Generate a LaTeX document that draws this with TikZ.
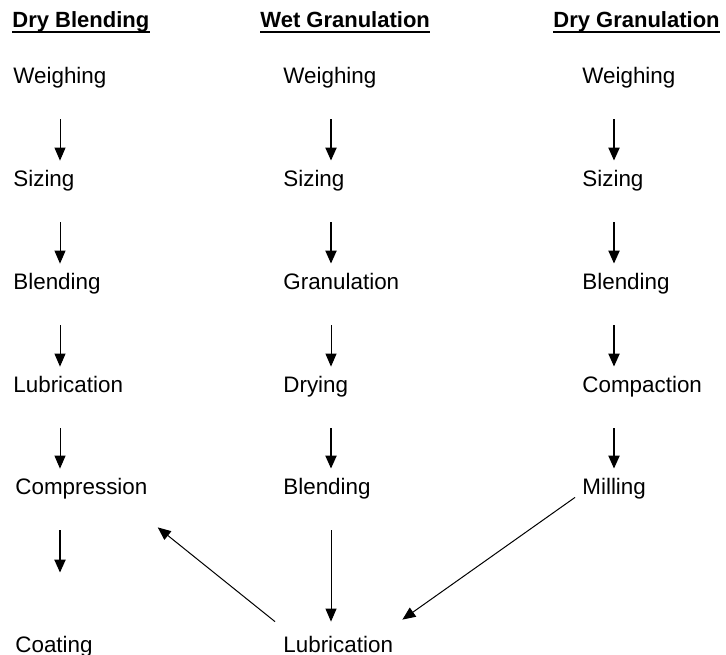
\documentclass[tikz,border=0pt]{standalone}
\usepackage{fontspec}
\setmainfont{Liberation Sans}
\usetikzlibrary{arrows.meta}

\tikzset{
  step text/.style={anchor=base west, inner sep=0pt, text height=8pt, text depth=2.5pt},
  head text/.style={step text, font=\fontsize{11}{13}\selectfont\bfseries},
  flow/.style={-{Triangle[length=6.5pt,width=5.5pt]}, line width=0.5pt,
    shorten <=15.5pt, shorten >=4.5pt},
  heavy/.style={flow, line width=1pt}
}

\begin{document}
\begin{tikzpicture}[x=0.5pt, y=-0.5pt, font=\fontsize{11.2}{13}\selectfont]
  \useasboundingbox (0,0) rectangle (726,654);

  % column headings
  \node[head text] (h1) at (12,27)  {Dry Blending};
  \node[head text] (h2) at (260,27) {Wet Granulation};
  \node[head text] (h3) at (553,27) {Dry Granulation};
  \foreach \h in {h1,h2,h3}
    \draw[line width=1pt] (\h.south west) -- (\h.south east);

  % arrow columns
  \coordinate (x1) at (60,0);
  \coordinate (x2) at (331,0);
  \coordinate (x3) at (614,0);

  % dry blending
  \node[step text] (w1) at (13,83)  {Weighing};
  \node[step text] (s1) at (13,186) {Sizing};
  \node[step text] (b1) at (13,289) {Blending};
  \node[step text] (l1) at (13,392) {Lubrication};
  \node[step text] (c1) at (15,494) {Compression};
  \node[step text] (k1) at (15,652) {Coating};

  % wet granulation
  \node[step text] (w2) at (283,83)  {Weighing};
  \node[step text] (s2) at (283,186) {Sizing};
  \node[step text] (g2) at (283,289) {Granulation};
  \node[step text] (d2) at (283,392) {Drying};
  \node[step text] (b2) at (283,494) {Blending};
  \node[step text] (l2) at (283,652) {Lubrication};

  % dry granulation
  \node[step text] (w3) at (582,83)  {Weighing};
  \node[step text] (s3) at (582,186) {Sizing};
  \node[step text] (b3) at (582,289) {Blending};
  \node[step text] (p3) at (582,392) {Compaction};
  \node[step text] (m3) at (582,494) {Milling};

  \foreach \a/\b in {w1/s1, s1/b1, b1/l1, l1/c1}
    \draw[flow] (x1 |- \a.south) -- (x1 |- \b.north);
  \draw[heavy, shorten >=31.5pt] (x1 |- c1.south) -- (x1 |- k1.north);

  \foreach \a/\b in {w2/s2, s2/g2, d2/b2}
    \draw[heavy] (x2 |- \a.south) -- (x2 |- \b.north);
  \draw[flow] (x2 |- g2.south) -- (x2 |- d2.north);
  \draw[flow, shorten >=7pt] (x2 |- b2.south) -- (x2 |- l2.north);

  \foreach \a/\b in {w3/s3, s3/b3, b3/p3, p3/m3}
    \draw[heavy] (x3 |- \a.south) -- (x3 |- \b.north);

  % lubrication feeds back to compression
  \draw[flow, shorten <=0pt, shorten >=0pt]
    ([shift={(-8,-14)}]l2.north west) -- ([shift={(10,28)}]c1.south east);
  \draw[flow, shorten <=0pt, shorten >=0pt]
    ([shift={(-7,-2)}]m3.south west) -- ([shift={(9,-16)}]l2.north east);
\end{tikzpicture}
\end{document}
